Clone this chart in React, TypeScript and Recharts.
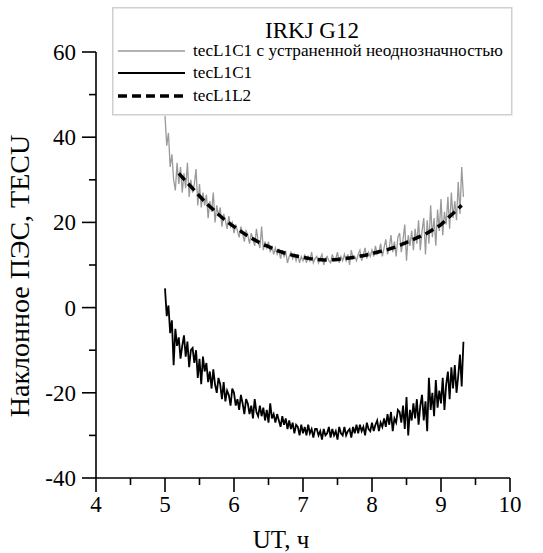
import React from 'react';
import { LineChart, Line, XAxis, YAxis, Legend } from 'recharts';

// sampling grid of the noisy series (hours UT)
const T0 = 5.0;
const DT = 0.025;

// tecL1C1 с устраненной неоднозначностью (gray)
const grayTec = [
  45, 38, 41, 33, 36, 30, 27.5, 34,
  29, 33, 27, 31.5, 28, 34, 26, 30,
  27, 29, 32.5, 24, 29, 23.5, 27, 24,
  26.5, 21, 25, 22.5, 27, 20, 24, 21.5,
  23.5, 19, 22, 20.5, 18.5, 21.5, 19, 20,
  17.5, 19.5, 18, 16.5, 19, 17.5, 15.5, 18,
  17, 15, 17.5, 16, 14.5, 18.5, 15.5, 14,
  19, 13.5, 15.5, 14, 15.5, 13, 14.5, 12.5,
  14, 12.5, 13.5, 11.5, 13.5, 12, 13, 10.5,
  12, 13, 11.5, 12.5, 11, 12.5, 10.5, 12,
  11, 12.5, 10.5, 12, 11, 13, 10.5, 11.5,
  12, 10.5, 11.5, 12.5, 10, 11.5, 12, 11,
  10.5, 12.5, 11, 11.5, 13, 10.5, 12, 11,
  12.5, 11, 12.5, 10, 13.5, 11.5, 12, 11,
  12.5, 13.5, 11, 12.5, 14, 11.5, 13, 12,
  13.5, 12, 14.5, 12.5, 13, 15, 12, 14,
  16, 12.5, 14, 17, 13, 15.5, 12, 16.5,
  17.5, 13, 16, 19.5, 11, 17, 14.5, 18,
  13.5, 18.5, 15, 20.5, 13.5, 18, 21, 12.5,
  20.5, 15, 24, 16.5, 21, 14.5, 23, 18,
  25.5, 17, 22.5, 19.5, 26, 18.5, 27, 21,
  25, 20.5, 29.5, 22, 33, 26,
];

// tecL1C1 (black)
const blackTec = [
  4.5, -2, 0.5, -6, -3, -13.5, -5, -9,
  -7, -12, -9, -6.5, -11.5, -8, -14, -10,
  -9.5, -13, -10, -16.5, -12, -18, -11.5, -15,
  -13, -17.5, -15, -19, -14.5, -18, -20, -16.5,
  -18, -21.5, -17.5, -22, -19.5, -20.5, -23, -19,
  -20, -23, -21.5, -24, -20.5, -22.5, -25, -21.5,
  -22.5, -25, -23, -26, -21.5, -24.5, -25.5, -23,
  -25.5, -23.5, -26.5, -24, -27, -22.5, -26, -25,
  -27, -25, -26.5, -28, -25.5, -27.5, -26, -28.5,
  -26.5, -28.5, -27, -29.5, -27.5, -28, -30, -27.5,
  -29.5, -28, -30, -27.5, -29.5, -28.5, -30.5, -28.5,
  -28.5, -30, -29, -31, -28.5, -30, -29.5, -28,
  -30.5, -28.5, -30, -29, -31, -28, -29.5, -30,
  -28, -30, -29, -28.5, -30.5, -28, -29.5, -27.5,
  -29.5, -27.5, -29, -28, -30, -27, -28.5, -29,
  -27, -29, -27.5, -26.5, -29, -27, -28, -26,
  -28, -25, -27.5, -24.5, -29, -26, -27, -24,
  -24.5, -27, -23, -28.5, -21, -30, -24, -26.5,
  -22.5, -26, -21.5, -27.5, -23, -20.5, -26.5, -22,
  -29, -16.5, -24, -20, -25.5, -17, -23.5, -19.5,
  -22.5, -16.5, -24, -18, -15, -21.5, -14, -19,
  -13.5, -20, -16, -11, -18.5, -8,
];

// tecL1L2 (dashed)
const smoothTime = [
  5.2, 5.3, 5.4, 5.5, 5.6, 5.7, 5.8, 5.9, 6.0, 6.1, 6.2, 6.3, 6.4, 6.5,
  6.6, 6.7, 6.8, 6.9, 7.0, 7.1, 7.2, 7.3, 7.4, 7.5, 7.6, 7.7, 7.8, 7.9,
  8.0, 8.1, 8.2, 8.3, 8.4, 8.5, 8.6, 8.7, 8.8, 8.9, 9.0, 9.1, 9.2, 9.3,
];
const smoothTec = [
  31.5, 29.7, 28, 26.2, 24.5, 23, 21.5, 20.2, 19, 17.9, 16.8, 15.9, 15, 14.3,
  13.6, 13, 12.5, 12.1, 11.8, 11.5, 11.3, 11.2, 11.2, 11.3, 11.5, 11.7, 12.0, 12.3,
  12.7, 13.1, 13.5, 14.0, 14.6, 15.3, 16.0, 16.7, 17.5, 18.5, 19.5, 21, 22.5, 24,
];

const legendNames = ['tecL1C1 с устраненной неоднозначностью', 'tecL1C1', 'tecL1L2'];

const xTicks = [4, 4.5, 5, 5.5, 6, 6.5, 7, 7.5, 8, 8.5, 9, 9.5, 10];
const yTicks = [-40, -30, -20, -10, 0, 10, 20, 30, 40, 50, 60];

const FONT = '"Liberation Serif", "Times New Roman", serif';

const grayData = grayTec.map((v, i) => ({ t: +(T0 + i * DT).toFixed(3), v }));
const blackData = blackTec.map((v, i) => ({ t: +(T0 + i * DT).toFixed(3), v }));
const smoothData = smoothTime.map((t, i) => ({ t, v: smoothTec[i] }));

const XTick = (props: any) => {
  const { x, y, payload } = props;
  const major = Number.isInteger(payload.value);
  return (
    <g>
      <line x1={x} y1={y} x2={x} y2={y + (major ? 14 : 7)} stroke="#000" strokeWidth={1.6} />
      {major && (
        <text x={x} y={y + 34} textAnchor="middle" fontSize={23} fontFamily={FONT} fill="#000">
          {payload.value}
        </text>
      )}
    </g>
  );
};

const YTick = (props: any) => {
  const { x, y, payload } = props;
  const major = payload.value % 20 === 0;
  return (
    <g>
      <line x1={x - (major ? 14 : 7)} y1={y} x2={x} y2={y} stroke="#000" strokeWidth={1.6} />
      {major && (
        <text x={x - 20} y={y + 8} textAnchor="end" fontSize={23} fontFamily={FONT} fill="#000">
          {payload.value}
        </text>
      )}
    </g>
  );
};

// boxed legend drawn in the top right corner, over the plot
const LegendBox = () => (
  <svg width={401} height={109} style={{ display: 'block' }}>
    <rect x={0.75} y={0.75} width={399} height={107} fill="#fff" stroke="#cfcfcf" strokeWidth={1.5} />
    <text x={200} y={31} textAnchor="middle" fontSize={23} fontFamily={FONT} fill="#000">
      IRKJ G12
    </text>
    <line x1={6} y1={44} x2={73} y2={44} stroke="#9a9a9a" strokeWidth={1.4} />
    <line x1={6} y1={66} x2={73} y2={66} stroke="#000" strokeWidth={2.2} />
    <line x1={6} y1={89} x2={73} y2={89} stroke="#000" strokeWidth={3.5} strokeDasharray="9 5" />
    {legendNames.map((s, i) => (
      <text key={s} x={81} y={[49, 71, 94][i]} fontSize={17.2} fontFamily={FONT} fill="#000">
        {s}
      </text>
    ))}
  </svg>
);

export default function App() {
  return (
    <div style={{ position: 'absolute', left: 0, top: 0, background: '#fff' }}>
      <LineChart width={543} height={553} margin={{ top: 52, right: 33, bottom: 0, left: 0 }}>
        <XAxis
          type="number"
          dataKey="t"
          domain={[4, 10]}
          ticks={xTicks}
          interval={0}
          allowDataOverflow
          tick={<XTick />}
          tickLine={false}
          tickSize={0}
          tickMargin={0}
          height={75}
          axisLine={{ stroke: '#000', strokeWidth: 1.6 }}
          label={{
            content: () => (
              <text x={281} y={548} textAnchor="middle" fontSize={25} fontFamily={FONT} fill="#000">
                UT, ч
              </text>
            ),
          }}
        />
        <YAxis
          type="number"
          domain={[-40, 60]}
          ticks={yTicks}
          interval={0}
          allowDataOverflow
          tick={<YTick />}
          tickLine={false}
          tickSize={0}
          tickMargin={0}
          width={96}
          axisLine={{ stroke: '#000', strokeWidth: 1.6 }}
          label={{
            content: () => (
              <text
                x={19}
                y={276}
                transform="rotate(-90, 19, 276)"
                textAnchor="middle"
                dominantBaseline="central"
                fontSize={28}
                fontFamily={FONT}
                fill="#000"
              >
                Наклонное ПЭС, TECU
              </text>
            ),
          }}
        />
        <Legend
          verticalAlign="middle"
          align="center"
          layout="horizontal"
          content={() => <LegendBox />}
          wrapperStyle={{ position: 'absolute', left: 112, top: 7, width: 401, height: 109 }}
        />
        <Line
          data={grayData}
          dataKey="v"
          name={legendNames[0]}
          stroke="#9a9a9a"
          strokeWidth={1.3}
          dot={false}
          type="linear"
          isAnimationActive={false}
        />
        <Line
          data={smoothData}
          dataKey="v"
          name={legendNames[2]}
          stroke="#000"
          strokeWidth={3.5}
          strokeDasharray="9 5"
          dot={false}
          type="monotone"
          isAnimationActive={false}
        />
        <Line
          data={blackData}
          dataKey="v"
          name={legendNames[1]}
          stroke="#000"
          strokeWidth={1.8}
          dot={false}
          type="linear"
          isAnimationActive={false}
        />
      </LineChart>
    </div>
  );
}
